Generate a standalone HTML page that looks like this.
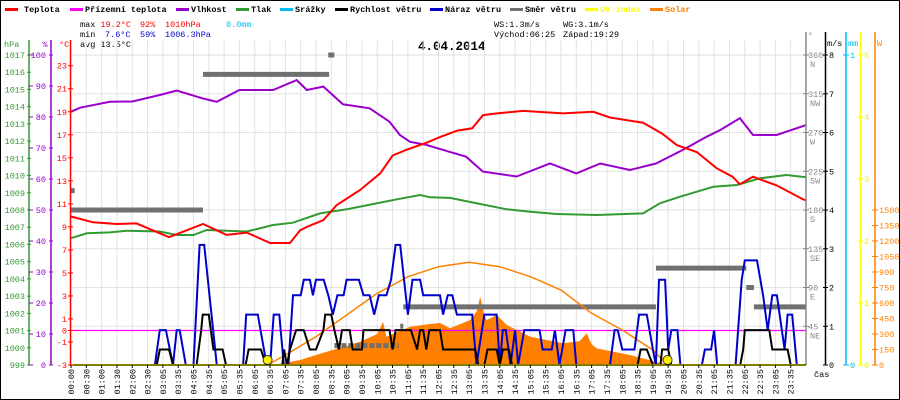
<!DOCTYPE html>
<html><head><meta charset="utf-8">
<style>
html,body{margin:0;padding:0;background:#fff;}
svg{display:block;font-family:"Liberation Mono",monospace;}
</style></head>
<body>
<svg id="chart" width="900" height="400" viewBox="0 0 900 400" xmlns="http://www.w3.org/2000/svg">
<rect x="0.5" y="0.5" width="899" height="399" fill="#fff" stroke="#000"/>
<g font-size="8.5" font-weight="bold">
 <g><rect x="5" y="8" width="13" height="3" fill="#ff0000"/><text x="24" y="12">Teplota</text></g>
 <g><rect x="70" y="8" width="13" height="3" fill="#ff00ff"/><text x="85" y="12">Přízemní teplota</text></g>
 <g><rect x="176" y="8" width="13" height="3" fill="#9900cc"/><text x="191" y="12">Vlhkost</text></g>
 <g><rect x="236" y="8" width="13" height="3" fill="#339933"/><text x="251" y="12">Tlak</text></g>
 <g><rect x="280" y="8" width="13" height="3" fill="#00bbee"/><text x="295" y="12">Srážky</text></g>
 <g><rect x="335" y="8" width="13" height="3" fill="#000"/><text x="350" y="12">Rychlost větru</text></g>
 <g><rect x="430" y="8" width="13" height="3" fill="#0000cc"/><text x="445" y="12">Náraz větru</text></g>
 <g><rect x="510" y="8" width="13" height="3" fill="#707070"/><text x="525" y="12">Směr větru</text></g>
 <g><rect x="585" y="8" width="13" height="3" fill="#ffff00"/><text x="600" y="12" fill="#ffff00">UV index</text></g>
 <g><rect x="650" y="8" width="13" height="3" fill="#ff8000"/><text x="665" y="12" fill="#ff8000">Solar</text></g>
</g>
<g font-size="8.5">
 <text x="80" y="27">max <tspan fill="#ff0000">19.2°C</tspan></text>
 <text x="140" y="27" fill="#ff0000">92%</text>
 <text x="165" y="27" fill="#ff0000">1010hPa</text>
 <text x="226" y="27" fill="#00bbee">0.0mm</text>
 <text x="80" y="37">min</text>
 <text x="105" y="37" fill="#0000cc">7.6°C</text>
 <text x="140" y="37" fill="#0000cc">59%</text>
 <text x="165" y="37" fill="#0000cc">1006.3hPa</text>
 <text x="80" y="47">avg 13.5°C</text>
 <text x="494" y="27">WS:1.3m/s</text>
 <text x="563" y="27">WG:3.1m/s</text>
 <text x="494" y="37">Východ:06:25</text>
 <text x="563" y="37">Západ:19:29</text>
</g>
<text x="418" y="50" font-size="12.5" font-weight="bold">4.04.2014</text>
<g id="grid"></g>
<g id="marks"></g>
<g id="axes"></g>
</svg>
<script>
// ---- data ----
const tempH = [0,0.72,1.49,2.14,3.2,4.31,5.08,5.74,6.5,7.15,7.48,7.7,8.24,8.68,9.44,10.1,10.5,10.96,11.6,12.05,12.6,13.1,13.45,13.9,14.76,16.07,17.05,17.6,18.68,19.3,19.78,20.43,21.08,21.6,21.84,22.27,23.04,23.9,24];
const tempV = [9.9,9.4,9.25,9.3,8.1,9.25,8.3,8.5,7.6,7.6,8.7,9.0,9.6,10.9,12.2,13.65,15.2,15.7,16.3,16.8,17.35,17.56,18.7,18.86,19.07,18.86,19.0,18.5,18.05,17.1,16.1,15.5,14.1,13.36,12.7,13.36,12.6,11.4,11.3];
const humH = [0,0.3,1.27,2.0,2.9,3.45,4.3,4.76,5.5,6.6,7.37,7.7,8.24,8.88,9.75,10.4,10.74,11.07,11.6,12.15,12.9,13.45,14.55,15.64,16.5,17.28,18.25,19.1,19.98,20.75,21.2,21.84,22.27,23.04,24];
const humV = [81.7,83,84.9,85,87.1,88.5,86,84.9,88.7,88.7,91.9,88.7,89.8,84.1,82.8,78.5,74.2,72,71,69.4,67.2,62.4,60.8,65,61.8,65,62.9,65,69.4,73.6,75.8,79.6,74.2,74.2,77.4];
const presH = [0,0.52,1.27,1.82,2.9,3.45,4.0,4.43,5.74,6.6,7.25,8.13,9.0,9.87,10.64,11.4,11.72,12.38,13.36,14.23,15.0,15.86,17.17,18.68,19.23,19.89,20.98,21.74,22.5,23.37,24];
const presV = [1006.36,1006.65,1006.7,1006.8,1006.75,1006.55,1006.55,1006.84,1006.75,1007.13,1007.26,1007.8,1008.04,1008.35,1008.62,1008.87,1008.74,1008.7,1008.35,1008.04,1007.9,1007.77,1007.71,1007.8,1008.39,1008.77,1009.35,1009.45,1009.84,1010.03,1009.9];
const groundH = [0,24];
const groundV = [0,0];
const gustH = [0,2.74,2.9,3.1,3.33,3.45,3.55,3.75,4.0,4.2,4.35,4.76,5.62,5.72,6.1,6.39,6.5,6.62,6.8,6.95,7.1,7.25,7.5,7.6,7.8,7.9,8.0,8.25,8.4,8.55,8.7,8.9,9.0,9.4,9.55,9.75,9.9,10.05,10.3,10.45,10.6,10.75,11.0,11.15,11.4,11.5,12.05,12.15,12.3,12.45,12.6,13.1,13.24,13.5,13.9,14.0,14.1,14.2,14.35,14.5,14.6,14.8,15.3,15.4,15.7,15.8,15.95,16.15,16.4,16.5,17.6,17.75,17.85,18.0,18.4,18.55,18.8,19.0,19.1,19.2,19.4,19.5,19.6,19.8,19.9,20.6,20.7,20.9,21.0,21.1,21.7,21.9,22.0,22.4,22.6,22.75,22.9,23.05,23.3,23.4,23.55,23.7,24];
const gustV = [0,0,0.9,0.9,0,0.9,0.9,0,0,3.1,3.1,0,0,1.3,1.3,0,0,1.3,1.3,0,0,1.8,1.8,2.2,2.2,1.8,2.2,2.2,1.8,1.3,1.8,1.8,2.2,2.2,1.8,1.8,1.3,1.8,1.8,2.2,3.1,3.1,1.3,2.2,2.2,1.8,1.8,1.3,1.8,1.8,1.3,1.3,0,1.3,1.3,0,0.9,0.9,0,0.9,0,0.9,0.9,0.4,0.4,0.9,0,0.9,0.9,0,0,0.9,0.9,0.4,0.4,1.3,1.3,0.4,0,2.2,2.2,0.4,0.9,0.9,0,0,0.4,0.4,0.9,0,0,2.2,2.7,2.7,1.8,0.9,1.8,1.8,0.4,1.3,1.3,0,0];
const speedH = [0,2.8,2.9,3.2,3.33,4.1,4.25,4.3,4.5,4.65,4.95,5.06,5.7,5.8,6.2,6.37,6.9,6.96,7.05,7.15,7.35,7.6,7.8,8.0,8.24,8.3,8.5,8.6,8.75,8.85,9.1,9.2,9.5,9.55,10.4,10.5,10.6,11.1,11.3,11.4,11.5,11.6,11.7,12.05,12.15,13.2,13.3,13.5,13.6,13.9,14.0,14.1,14.3,14.4,18.5,18.6,18.8,19.0,19.25,19.3,19.5,19.6,21.85,21.95,22.0,22.8,22.9,23.4,23.5,24];
const speedV = [0,0,0.4,0.4,0,0,0.9,1.3,1.3,0.4,0.4,0,0,0.4,0.4,0,0,0.4,0,0.4,0.9,0.9,0.4,0.4,0.9,1.3,1.3,0.9,0.4,0.9,0.9,0.4,0.4,0.9,0.9,0.4,0.9,0.9,0.4,0.9,0.9,0.4,0.9,0.9,0.4,0.4,0,0,0.4,0.4,0,0.4,0.4,0,0,0.4,0.4,0,0,0.4,0.4,0,0,0.4,0.9,0.9,0.4,0.4,0,0];
const solarH = [6.6,7.48,8.35,9.44,10.0,10.19,10.3,11.07,11.72,12.05,12.38,13.03,13.25,13.36,13.5,13.57,13.9,14.23,15.0,16.07,16.6,16.84,17.0,17.17,18.25,19.1,19.56];
const solarV = [0,48,129,225,300,419,274,370,397,406,355,435,520,661,480,435,484,387,274,210,230,306,200,161,97,32,0];
const clearH = [6.42,7,8,9,10,11,12,13,14,15,16,17,18,19,19.48];
const clearV = [0,97,274,484,694,855,951,994,951,855,726,500,339,145,0];
const dirStart = [0,0,4.31,8.4,8.6,10.75,10.85,19.1,22.05,22.3];
const dirEnd   = [0.12,4.31,8.43,8.6,10.7,10.85,19.1,22.05,22.3,24];
const dirDeg   = [202.5,180,337.5,360,22.5,45,67.5,112.5,90,67.5];
const sunH = [6.42,19.48];
const timeLabels = ["00:00","00:30","01:00","01:30","02:00","02:30","03:05","03:35","04:05","04:35","05:05","05:35","06:05","06:35","07:05","07:35","08:05","08:35","09:05","09:35","10:05","10:35","11:05","11:35","12:05","12:35","13:05","13:35","14:05","14:35","15:05","15:35","16:05","16:35","17:05","17:35","18:05","18:35","19:05","19:35","20:05","20:35","21:05","21:35","22:05","22:35","23:05","23:35"];
const hpaTicks = [1017,1016,1015,1014,1013,1012,1011,1010,1009,1008,1007,1006,1005,1004,1003,1002,1001,1000,999];
const humTicks = [100,90,80,70,60,50,40,30,20,10,0];
const tempTicks = [23,21,19,17,15,13,11,9,7,5,3,1,0,-1,-3];
const degTicks = [360,315,270,225,180,135,90,45];
const degNames = ["N","NW","W","SW","S","SE","E","NE"];
const msTicks = [8,7,6,5,4,3,2,1,0];
const uvTicks = [5,4,3,2,1,0];
const wTicks = [1500,1350,1200,1050,900,750,600,450,300,150,0];

// ---- scales ----
const X0 = 71, X1 = 806, YB = 365, YT = 55;
const X = h => X0 + h * (X1 - X0) / 24;
const yT = t => YB - (t + 3) * (YB - YT) / 26.93;
const yHum = p => YB - p * (YB - YT) / 100;
const yP = p => YB - (p - 999) * (YB - YT) / 18;
const yWs = v => YB - v * (YB - YT) / 8;
const ySol = w => YB - w * 0.10333;
const yDeg = d => YB - d * (YB - YT) / 360;
const yUv = u => YB - u * (YB - YT) / 5;

const NS = "http://www.w3.org/2000/svg";
function mk(parent, tag, attrs, txt) {
  const el = document.createElementNS(NS, tag);
  for (const k in attrs) el.setAttribute(k, attrs[k]);
  if (txt !== undefined) el.textContent = txt;
  parent.appendChild(el);
  return el;
}
const grid = document.getElementById('grid');
const marks = document.getElementById('marks');
const axes = document.getElementById('axes');

// grid
for (let i = 0; i <= 48; i++) {
  const x = X(i / 2);
  const g = mk(grid, 'line', {x1: x, x2: x, y1: 40, y2: YB, stroke: '#e2e2e2', 'stroke-width': 1});
  
  
}
for (let i = 0; i < degTicks.length; i++) {
  const y = yDeg(degTicks[i]);
  const g = mk(grid, 'line', {x1: X0, x2: X1, y1: y, y2: y, stroke: '#e2e2e2', 'stroke-width': 1});
  
  
}

function pts(H, V, fy) { return H.map((h, i) => X(h).toFixed(1) + ',' + fy(V[i]).toFixed(1)).join(' '); }

// solar fill
const solarFill = mk(marks, 'polygon', {points: pts(solarH, solarV, ySol), fill: '#ff8000'});



// ground temp
const ground = mk(marks, 'polyline', {points: pts(groundH, groundV, yT), fill: 'none', stroke: '#ff00ff', 'stroke-width': 1.2});



// wind direction
for (let i = 0; i < dirDeg.length; i++) {
  const y = yDeg(dirDeg[i]);
  const attrs = {x1: X(dirStart[i]), x2: X(dirEnd[i]), y1: y, y2: y, stroke: '#707070', 'stroke-width': 5};
  if (dirDeg[i] === 22.5) attrs['stroke-dasharray'] = '5,2';
  const b = mk(marks, 'line', attrs);
  
  
}

// clear sky
const clear = mk(marks, 'polyline', {points: pts(clearH, clearV, ySol), fill: 'none', stroke: '#ff8000', 'stroke-width': 1.5});



const gust = mk(marks, 'polyline', {points: pts(gustH, gustV, yWs), fill: 'none', stroke: '#0000cc', 'stroke-width': 2});


const speed = mk(marks, 'polyline', {points: pts(speedH, speedV, yWs), fill: 'none', stroke: '#000', 'stroke-width': 2});


const pres = mk(marks, 'polyline', {points: pts(presH, presV, yP), fill: 'none', stroke: '#339933', 'stroke-width': 2});


const hum = mk(marks, 'polyline', {points: pts(humH, humV, yHum), fill: 'none', stroke: '#9900cc', 'stroke-width': 2});


const temp = mk(marks, 'polyline', {points: pts(tempH, tempV, yT), fill: 'none', stroke: '#ff0000', 'stroke-width': 2});



const uvLine = mk(marks, 'line', {x1: X0, x2: X1, y1: YB, y2: YB, stroke: '#ffff00', 'stroke-width': 2});


for (let i = 0; i < sunH.length; i++) {
  const c = mk(marks, 'circle', {cx: X(sunH[i]), cy: YB - 5, r: 4.5, fill: '#ffee00', stroke: '#333', 'stroke-width': 1});
  
  
}

// left axes
function vline(x, y1, y2, col, name) {
  const l = mk(axes, 'line', {x1: x, x2: x, y1: y1, y2: y2, stroke: col, 'stroke-width': 1.5});
  
  
}
vline(29, 40, YB, '#339933', 'pressure-axis');
vline(51, 40, YB, '#9900cc', 'humidity-axis');
vline(70.5, 40, YB, '#ff0000', 'temperature-axis');
vline(806, 32, YB, '#888', 'direction-axis');
vline(825.5, 32, YB, '#000', 'wind-speed-axis');
vline(846, 32, YB, '#00bbee', 'rain-axis');
vline(860.5, 32, YB, '#ffff00', 'uv-axis');
vline(875, 32, YB, '#ff8000', 'solar-axis');
const xl = mk(axes, 'line', {x1: X0, x2: X1, y1: YB, y2: YB, stroke: '#000', 'stroke-width': 1});



const F = {'font-size': '8.5'};
function label(x, y, txt, col, anchor, name) {
  const t = mk(axes, 'text', Object.assign({x: x, y: y, fill: col, 'text-anchor': anchor}, F), txt);
  
  
  return t;
}
function tick(x1, x2, y, col) {
  const t = mk(axes, 'line', {x1: x1, x2: x2, y1: y, y2: y, stroke: col, 'stroke-width': 1});
  
  
}
label(4, 47, 'hPa', '#339933', 'start', 'pressure-axis-title');
label(45, 47, '%', '#9900cc', 'middle', 'humidity-axis-title');
label(59, 47, '°C', '#ff0000', 'start', 'temperature-axis-title');
for (const p of hpaTicks) { const y = yP(p); tick(27, 31, y, '#339933'); label(25, y + 3, String(p), '#339933', 'end', 'pressure-tick-label'); }
for (const p of humTicks) { const y = yHum(p); tick(29, 33, y, '#9900cc'); tick(49, 53, y, '#9900cc'); label(46, y + 3, String(p), '#9900cc', 'end', 'humidity-tick-label'); }
for (const t of tempTicks) { const y = yT(t); tick(68, 73, y, '#ff0000'); label(67, y + 3, String(t), '#ff0000', 'end', 'temperature-tick-label'); }

// right axes
label(808, 38, '°', '#888', 'start', 'direction-axis-title');
label(827, 46, 'm/s', '#000', 'start', 'wind-speed-axis-title');
label(848, 46, 'mm', '#00bbee', 'start', 'rain-axis-title');
label(877, 46, 'W', '#ff8000', 'start', 'solar-axis-title');
for (let i = 0; i < degTicks.length; i++) {
  const y = yDeg(degTicks[i]);
  tick(803, 809, y, '#888');
  label(808, y + 3, String(degTicks[i]), '#888', 'start', 'direction-tick-label');
  label(810, y + 12, degNames[i], '#888', 'start', 'compass-label');
}
for (const v of msTicks) { const y = yWs(v); tick(823, 828, y, '#000'); label(829, y + 3, String(v), '#000', 'start', 'wind-speed-tick-label'); }
tick(843, 849, YT, '#00bbee'); label(850, YT + 3, '1', '#00bbee', 'start', 'rain-tick-label');
tick(843, 849, YB, '#00bbee'); label(850, YB + 3, '0', '#00bbee', 'start', 'rain-tick-label');
for (const u of uvTicks) { const y = yUv(u); tick(858, 863, y, '#ffff00'); label(864, y + 3, String(u), '#eeee00', 'start', 'uv-tick-label'); }
for (const w of wTicks) { const y = ySol(w); tick(872, 878, y, '#ff8000'); label(879, y + 3, String(w), '#ff8000', 'start', 'solar-tick-label'); }

// x labels
for (let i = 0; i < timeLabels.length; i++) {
  const x = X(i / 2);
  tick(x, x, YB, '#000');
  const tk = mk(axes, 'line', {x1: x, x2: x, y1: YB, y2: YB + 3, stroke: '#000', 'stroke-width': 1});
  
  
  const t = mk(axes, 'text', {x: 0, y: 0, 'font-size': '8.5', 'text-anchor': 'end', transform: 'translate(' + (x + 3) + ',' + (YB + 4) + ') rotate(-90)'}, timeLabels[i]);
  
  
}
label(814, 377, 'čas', '#000', 'start', 'x-axis-title');
</script>
</body></html>
